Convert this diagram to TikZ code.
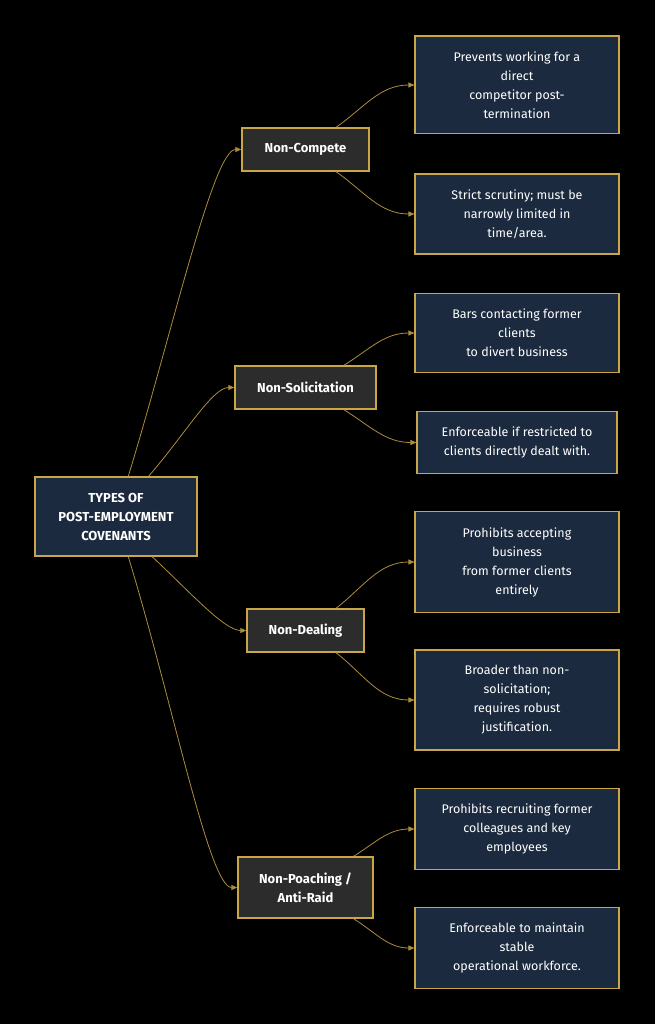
\documentclass[tikz,border=0pt]{standalone}
\usepackage{fontspec}
\setmainfont{Fira Sans}
\usepackage{xcolor}
\usetikzlibrary{positioning,arrows.meta}
\definecolor{navy}{HTML}{1B2A3E}
\definecolor{coal}{HTML}{2C2C2C}
\definecolor{gold}{HTML}{C9A646}
\tikzstyle{rootbox}=[rectangle, draw=gold, line width=1.6pt, fill=navy, text=white,
        font=\fontsize{13}{19}\selectfont\bfseries, align=center, minimum width=162pt, minimum height=79pt]
\tikzstyle{typebox}=[rectangle, draw=gold, line width=1.4pt, fill=coal, text=white,
        font=\fontsize{13}{19}\selectfont\bfseries, align=center, minimum height=43pt]
\tikzstyle{leafbox}=[rectangle, draw=gold, line width=1.1pt, fill=navy, text=white,
        font=\fontsize{12.5}{19}\selectfont, align=center, minimum width=204pt, inner ysep=15.5pt]
\tikzstyle{link}=[draw=gold!85!black, line width=0.8pt, -{Triangle[length=6pt,width=5pt]}]

\begin{document}
\begin{tikzpicture}[x=1pt, y=1pt]
        \fill[black] (0,0) rectangle (655,-1024);
        \useasboundingbox (0,0) rectangle (655,-1024);

        \node (root) [rootbox] at (116,-516.5) {TYPES OF\\POST-EMPLOYMENT\\COVENANTS};

        \node (compete) [typebox, minimum width=127pt] at (305.5,-149.5) {Non-Compete};
        \node (solicit) [typebox, minimum width=141pt] at (305.5,-387.5) {Non-Solicitation};
        \node (dealing) [typebox, minimum width=117pt] at (305.5,-630.5) {Non-Dealing};
        \node (poach) [typebox, minimum width=135pt, minimum height=61pt] at (305.5,-887.5) {Non-Poaching /\\Anti-Raid};

        \node (competeA) [leafbox] at (517,-85) {Prevents working for a\\direct\\competitor post-\\termination};
        \node (competeB) [leafbox] at (517,-214) {Strict scrutiny; must be\\narrowly limited in\\time/area.};
        \node (solicitA) [leafbox] at (517,-333) {Bars contacting former\\clients\\to divert business};
        \node (solicitB) [leafbox, minimum width=200pt] at (517,-442.5) {Enforceable if restricted to\\clients directly dealt with.};
        \node (dealingA) [leafbox] at (517,-562) {Prohibits accepting\\business\\from former clients\\entirely};
        \node (dealingB) [leafbox] at (517,-700) {Broader than non-\\solicitation;\\requires robust\\justification.};
        \node (poachA) [leafbox] at (517,-829) {Prohibits recruiting former\\colleagues and key\\employees};
        \node (poachB) [leafbox] at (517,-948) {Enforceable to maintain\\stable\\operational workforce.};

        % root to covenant types
        \draw[link] (root.73) .. controls +(73:150) and +(-28,0) .. (compete.west);
        \draw[link] (root.51) .. controls +(49:55) and +(-22,0) .. (solicit.west);
        \draw[link] (root.-48) .. controls +(-43:50) and +(-22,0) .. (dealing.west);
        \draw[link] (root.-73) .. controls +(-73:150) and +(-28,0) .. (poach.west);

        % covenant types to notes
        \draw[link] (compete.36) to[out=35,in=180] (competeA.west);
        \draw[link] (compete.-36) to[out=-35,in=180] (competeB.west);
        \draw[link] (solicit.30) to[out=32,in=180] (solicitA.west);
        \draw[link] (solicit.-30) to[out=-32,in=180] (solicitB.west);
        \draw[link] (dealing.36) to[out=38,in=180] (dealingA.west);
        \draw[link] (dealing.-36) to[out=-38,in=180] (dealingB.west);
        \draw[link] (poach.33) to[out=32,in=180] (poachA.west);
        \draw[link] (poach.-33) to[out=-32,in=180] (poachB.west);
\end{tikzpicture}
\end{document}
